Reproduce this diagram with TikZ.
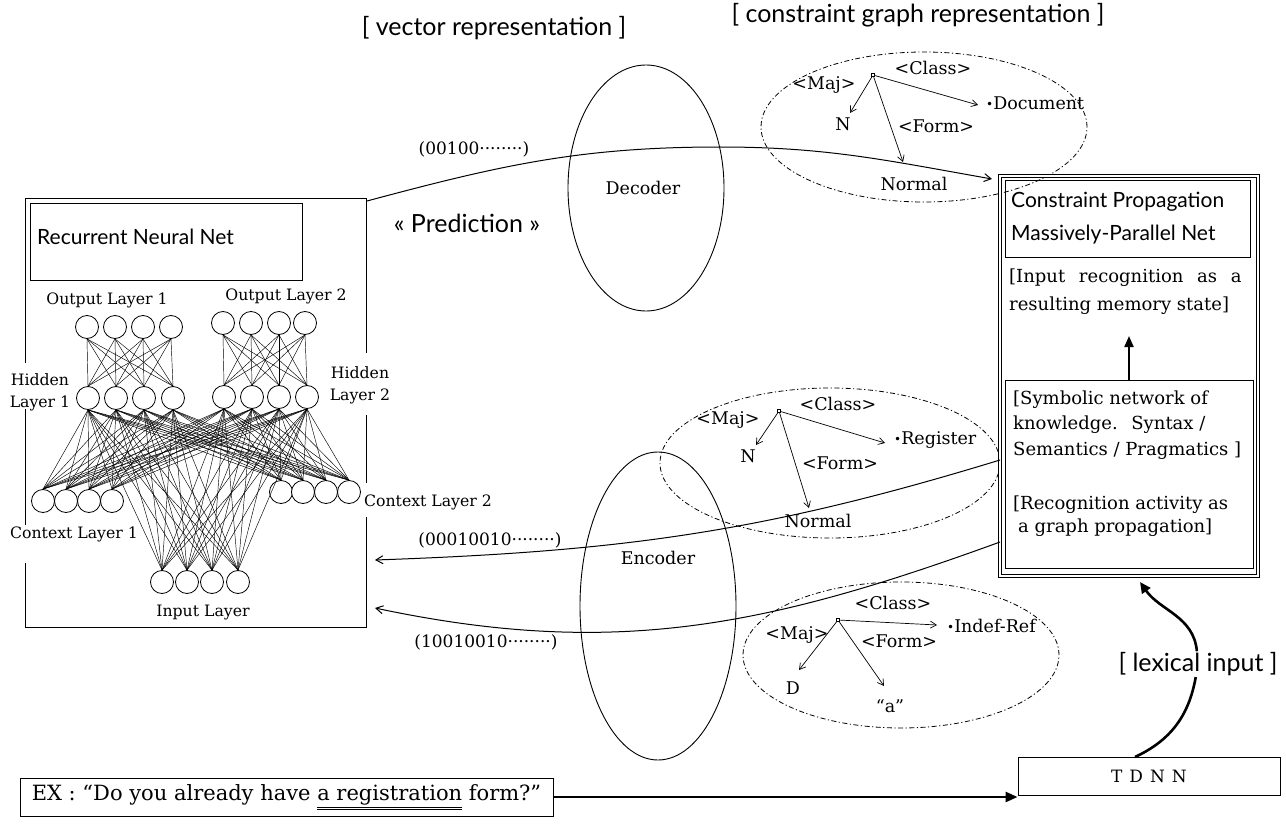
\documentclass[tikz,border=0pt]{standalone}
\usepackage{fontspec}
\setmainfont{DejaVu Serif}
\newfontfamily\sansf{Lato}
\usetikzlibrary{shapes.geometric,arrows.meta}
\newcommand{\gbul}{\raisebox{1.5pt}{\fontsize{12}{12}\selectfont •}}
\begin{document}
\begin{tikzpicture}[x=1pt,y=1pt,
  every node/.style={inner sep=1pt},
  neuron/.style={circle,draw,fill=white,minimum size=23pt,inner sep=0pt,line width=0.8pt},
  wire/.style={line width=0.45pt},
  rnnedge/.style={line width=0.9pt},
  boxnode/.style={draw,rectangle,line width=0.9pt,inner sep=0pt},
  netlbl/.style={font=\fontsize{15.7}{22}\selectfont,anchor=center,align=center},
  sanstitle/.style={font=\sansf\fontsize{21}{24}\selectfont,anchor=mid west},
  bigsans/.style={font=\sansf\fontsize{25}{28}\selectfont,anchor=mid},
  veclbl/.style={font=\fontsize{17}{19}\selectfont,anchor=mid},
  codeclbl/.style={font=\fontsize{17.5}{19}\selectfont,anchor=mid},
  cgell/.style={draw,ellipse,inner sep=0pt,line width=0.8pt,dash pattern=on 5pt off 2.5pt on 1.2pt off 2.5pt},
  codec/.style={draw,ellipse,inner sep=0pt,line width=0.9pt},
  glbl/.style={font=\fontsize{17.5}{19}\selectfont,anchor=mid},
  gword/.style={font=\fontsize{17.5}{19}\selectfont,anchor=mid west},
  groot/.style={draw,rectangle,minimum size=3.5pt,inner sep=0pt,line width=0.7pt},
  garrow/.style={-{Straight Barb[length=6pt,width=7pt]},line width=0.7pt},
  vecflow/.style={-{Straight Barb[length=7pt,width=8pt]},line width=1pt},
  boxtext/.style={font=\fontsize{18}{20}\selectfont,anchor=mid west},
  heavyarrow/.style={-{Triangle[length=12pt,width=10pt]},line width=2.6pt}
]
\useasboundingbox (0,0) rectangle (1286,-832);

% ---------------- Recurrent neural net box ----------------
\coordinate (rTL) at (25,-198);
\coordinate (rTR) at (366,-198);
\coordinate (rBL) at (25,-627);
\coordinate (rBR) at (366,-627);
\draw[rnnedge] (25,-363) -- (rTL) -- (rTR) -- (366,-353);
\draw[rnnedge] (25,-409) -- (25,-525);
\draw[rnnedge] (25,-563) -- (rBL) -- (rBR) -- (366,-517);
\draw[rnnedge] (366,-415) -- (366,-483);

\node[boxnode,minimum width=272pt,minimum height=77pt,anchor=north west] (rnnbox) at (30,-203) {};
\node[sanstitle] (rnntitle) at (36,-242) {Recurrent Neural Net};

% neurons
\foreach \x [count=\i] in {87,115,143,171} \node[neuron] (oa\i) at (\x,-327) {};
\foreach \x [count=\i] in {223,251,279,305} \node[neuron] (ob\i) at (\x,-323) {};
\foreach \x [count=\i] in {88,116,144,173} \node[neuron] (ha\i) at (\x,-398) {};
\foreach \x [count=\i] in {224,252,279,307} \node[neuron] (hb\i) at (\x,-397) {};
\foreach \x [count=\i] in {43,66,89,112} \node[neuron] (ca\i) at (\x,-501) {};
\foreach \x [count=\i] in {281,303,326,349} \node[neuron] (cb\i) at (\x,-492) {};
\foreach \x [count=\i] in {162,187,212,238} \node[neuron] (in\i) at (\x,-582) {};

% connections
\foreach \i in {1,...,4}{
  \foreach \j in {1,...,4}{
    \draw[wire] (oa\i.south) -- (ha\j.north);
    \draw[wire] (ob\i.south) -- (hb\j.north);
  }
}
\foreach \h in {ha,hb}{
  \foreach \i in {1,...,4}{
    \foreach \t in {ca1,ca2,ca3,ca4,cb1,cb2,cb3,cb4,in1,in2,in3,in4}{
      \draw[wire] (\h\i.south) -- (\t.north);
    }
  }
}

\node[netlbl] (ol1) at (107,-300) {Output Layer 1};
\node[netlbl] (ol2) at (286,-296) {Output Layer 2};
\node[netlbl] (hl1) at (40,-392) {Hidden\\Layer 1};
\node[netlbl] (hl2) at (360,-385) {Hidden\\Layer 2};
\node[netlbl] (cl1) at (74,-534) {Context Layer 1};
\node[netlbl] (cl2) at (428,-502) {Context Layer 2};
\node[netlbl] (il) at (203,-613) {Input Layer};

% ---------------- titles ----------------
\node[bigsans] (vectitle) at (494,-33) {[ vector representation ]};
\node[bigsans] (cgtitle) at (918,-20) {[ constraint graph representation ]};
\node[bigsans] (pred) at (467,-230) {« Prediction »};

% ---------------- decoder / encoder ----------------
\node[codec,minimum width=156pt,minimum height=246pt] (dec) at (646,-188) {};
\node[codeclbl] (declbl) at (643,-192) {Decoder};
\node[codec,minimum width=156pt,minimum height=308pt] (enc) at (658,-606) {};
\node[codeclbl] (enclbl) at (658,-562) {Encoder};

% ---------------- constraint graphs ----------------
\node[cgell,minimum width=326pt,minimum height=150pt] (cg1) at (924,-127) {};
\node[cgell,minimum width=340pt,minimum height=150pt] (cg2) at (830,-463) {};
\node[cgell,minimum width=316pt,minimum height=146pt] (cg3) at (901,-655) {};

% graph 1
\node[groot] (g1r) at (873,-75) {};
\coordinate (g1tn) at (850,-113);
\coordinate (g1tc) at (978,-105);
\coordinate (g1tf) at (903,-162);
\draw[garrow] (g1r) -- (g1tn);
\draw[garrow] (g1r) -- (g1tc);
\draw[garrow] (g1r) -- (g1tf);
\node[glbl] (g1maj) at (824,-87) {<Maj>};
\node[glbl] (g1n) at (843,-128) {N};
\node[glbl] (g1cls) at (933,-72) {<Class>};
\node[gword] (g1doc) at (985,-107) {\gbul Document};
\node[glbl] (g1frm) at (936,-130) {<Form>};
\node[glbl] (g1nor) at (914,-188) {Normal};

% graph 2
\node[groot] (g2r) at (779,-411) {};
\coordinate (g2tn) at (756,-445);
\coordinate (g2tc) at (885,-443);
\coordinate (g2tf) at (809,-508);
\draw[garrow] (g2r) -- (g2tn);
\draw[garrow] (g2r) -- (g2tc);
\draw[garrow] (g2r) -- (g2tf);
\node[glbl] (g2maj) at (728,-422) {<Maj>};
\node[glbl] (g2n) at (748,-460) {N};
\node[glbl] (g2cls) at (838,-408) {<Class>};
\node[gword] (g2reg) at (893,-442) {\gbul Register};
\node[glbl] (g2frm) at (840,-467) {<Form>};
\node[glbl] (g2nor) at (818,-525) {Normal};

% graph 3
\node[groot] (g3r) at (838,-620) {};
\coordinate (g3tc) at (937,-625);
\coordinate (g3tm) at (799,-670);
\coordinate (g3tf) at (884,-686);
\draw[garrow] (g3r) -- (g3tc);
\draw[garrow] (g3r) -- (g3tm);
\draw[garrow] (g3r) -- (g3tf);
\node[glbl] (g3cls) at (893,-607) {<Class>};
\node[gword] (g3ind) at (946,-630) {\gbul Indef-Ref};
\node[glbl] (g3maj) at (797,-637) {<Maj>};
\node[glbl] (g3frm) at (899,-645) {<Form>};
\node[glbl] (g3d) at (793,-692) {D};
\node[glbl] (g3a) at (890,-710) {“a”};

% ---------------- constraint propagation box ----------------
\node[draw,double,double distance=2.5pt,line width=0.8pt,minimum width=258pt,minimum height=400pt,inner sep=0pt] (cp) at (1129,-376) {};
\node[boxnode,minimum width=245pt,minimum height=77pt] (cptitle) at (1127.5,-218.5) {};
\node[sanstitle] (cpt1) at (1010,-205) {Constraint Propagation};
\node[sanstitle] (cpt2) at (1010,-238) {Massively-Parallel Net};
\node[boxtext] (rec1) at (1008,-280) {[Input\hspace{8pt} recognition\hspace{8pt} as\hspace{8pt} a};
\node[boxtext] (rec2) at (1008,-308) {resulting memory state]};
\node[boxnode,minimum width=248pt,minimum height=188pt] (symb) at (1129,-474) {};
\node[boxtext] (sy1) at (1012,-402) {[Symbolic network of};
\node[boxtext] (sy2) at (1012,-427) {knowledge.\hspace{6pt} Syntax /};
\node[boxtext] (sy3) at (1012,-453) {Semantics / Pragmatics ]};
\node[boxtext] (sy4) at (1012,-507) {[Recognition activity as};
\node[boxtext] (sy5) at (1017,-530) {a graph propagation]};
\coordinate (recogtip) at (1129,-336);
\draw[-{Triangle[length=11pt,width=9pt]},line width=2pt] (symb.north) -- (recogtip);

% ---------------- vector flows ----------------
\coordinate (rnnout) at (367,-201);
\coordinate (decmid) at (720,-147);
\coordinate (cpin) at (992,-179);
\draw[vecflow] (rnnout) to[out=15,in=180] (decmid) to[out=0,in=170] (cpin);
\node[veclbl] (v1) at (474,-152) {(00100········)};

\coordinate (cpout1) at (1000,-460);
\coordinate (rnnin1) at (375,-560);
\draw[vecflow] (cpout1) to[out=197,in=2] (rnnin1);
\node[veclbl] (v2) at (490,-543) {(00010010········)};

\coordinate (cpout2) at (1000,-542);
\coordinate (rnnin2) at (375,-608);
\draw[vecflow] (cpout2) to[out=200,in=-12] (rnnin2);
\node[veclbl] (v3) at (486,-645) {(10010010········)};

% ---------------- bottom ----------------
\node[boxnode,minimum width=533pt,minimum height=38pt,font=\fontsize{21}{24}\selectfont] (ex) at (286.5,-797)
  {EX : “Do you already have \underline{\underline{a registration}} form?”};
\node[boxnode,minimum width=262pt,minimum height=38pt,font=\fontsize{17}{20}\selectfont] (tdnn) at (1149,-776) {T\hspace{7pt}D\hspace{7pt}N\hspace{7pt}N};
\draw[heavyarrow] (ex.east) -- (ex.east -| tdnn.west);

\node[bigsans] (lex) at (1198,-669) {[ lexical input ]};
\coordinate (tdnntop) at (1135,-757);
\coordinate (cpbottom) at (1140,-582);
\draw[line width=2.6pt] (tdnntop) to[out=25,in=-100] (lex);
\draw[-{Triangle[length=11pt,width=10pt]},line width=2.6pt] (lex) to[out=95,in=-55] (cpbottom);
\end{tikzpicture}
\end{document}
